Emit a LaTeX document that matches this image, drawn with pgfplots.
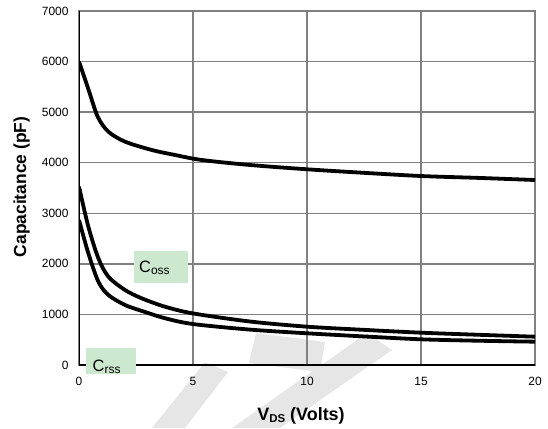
\documentclass[border=0pt]{standalone}
\usepackage{pgfplots}
\pgfplotsset{compat=1.18}
\usepackage{fontspec}
\setmainfont{Liberation Sans}
\definecolor{boxgreen}{RGB}{204,232,206}
\definecolor{gridgray}{RGB}{128,128,128}
\definecolor{wmgray}{RGB}{230,230,230}
\begin{document}
\begin{tikzpicture}[x=1bp,y=1bp]
\path[use as bounding box] (0,0) rectangle (548,428);
% watermark
\fill[wmgray] (256,95) -- (325,86) -- (320,56) -- (249,65) -- cycle;
\fill[wmgray] (367,95) -- (392,78) -- (280,0) -- (232,0) -- cycle;
\fill[wmgray] (205,66) -- (228,56) -- (185,0) -- (152,0) -- cycle;
\begin{axis}[
  at={(79bp,63bp)}, anchor=south west,
  scale only axis, width=456bp, height=354bp,
  xmin=0, xmax=20, ymin=0, ymax=7000,
  xtick={0,5,10,15,20}, ytick={0,1000,...,7000},
  grid=major,
  grid style={gridgray, line width=1.3bp},
  axis line style={gridgray, line width=1.3bp},
  major tick length=0pt,
  tick label style={font=\fontsize{12}{14}\selectfont},
  /pgf/number format/assume math mode=true,
  /pgf/number format/1000 sep={},
  xticklabel style={yshift=-9bp},
  yticklabel style={xshift=-7bp},
  clip=true,
]
\addplot[black, line width=3.8bp, smooth, tension=0.5] coordinates {
(0,6000) (0.4,5470) (0.82,4910) (1.29,4613) (2.02,4416) (3.19,4252) (4.21,4153) (5.38,4054) (7.5,3955) (10,3870) (12.5,3800) (15,3737) (17.5,3700) (20,3658)};
\addplot[black, line width=3.8bp, smooth, tension=0.5] coordinates {
(0,3526) (0.41,2735) (0.85,2110) (1.29,1746) (2.02,1483) (2.75,1319) (3.77,1153) (5,1020) (7.5,860) (10,758) (12.5,695) (15,639) (17.5,598) (20,560)};
\addplot[black, line width=3.8bp, smooth, tension=0.5] coordinates {
(0,2867) (0.41,2209) (0.85,1647) (1.29,1384) (2.02,1186) (2.75,1070) (3.77,925) (5,810) (7.5,700) (10,627) (12.5,565) (15,508) (17.5,480) (20,461)};
\draw[black, line width=1.6bp] (axis cs:0,0) -- (axis cs:20,0);
\draw[black, line width=2bp] (axis cs:0,0) -- (axis cs:0,7000);
\end{axis}
% label boxes
\fill[boxgreen] (134,145) rectangle (188,177);
\node[anchor=base west, inner sep=0pt, font=\fontsize{16.5}{18}\selectfont] at (139,156) {C\raisebox{-2.8bp}{\fontsize{12}{13}\selectfont oss}};
\begin{scope}
\clip (0,54) rectangle (548,428);
\fill[boxgreen] (86,54) rectangle (136,80);
\node[anchor=base west, inner sep=0pt, font=\fontsize{16.5}{18}\selectfont] at (92.5,57) {C\raisebox{-2.8bp}{\fontsize{12}{13}\selectfont rss}};
\end{scope}
% axis titles
\node[rotate=90, font=\bfseries\fontsize{17.5}{19}\selectfont, anchor=base] at (26,241) {Capacitance (pF)};
\node[font=\bfseries\fontsize{18}{20}\selectfont, anchor=base] at (301,8) {V\raisebox{-2.8bp}{\fontsize{11.5}{12}\selectfont DS} (Volts)};
\end{tikzpicture}
\end{document}
